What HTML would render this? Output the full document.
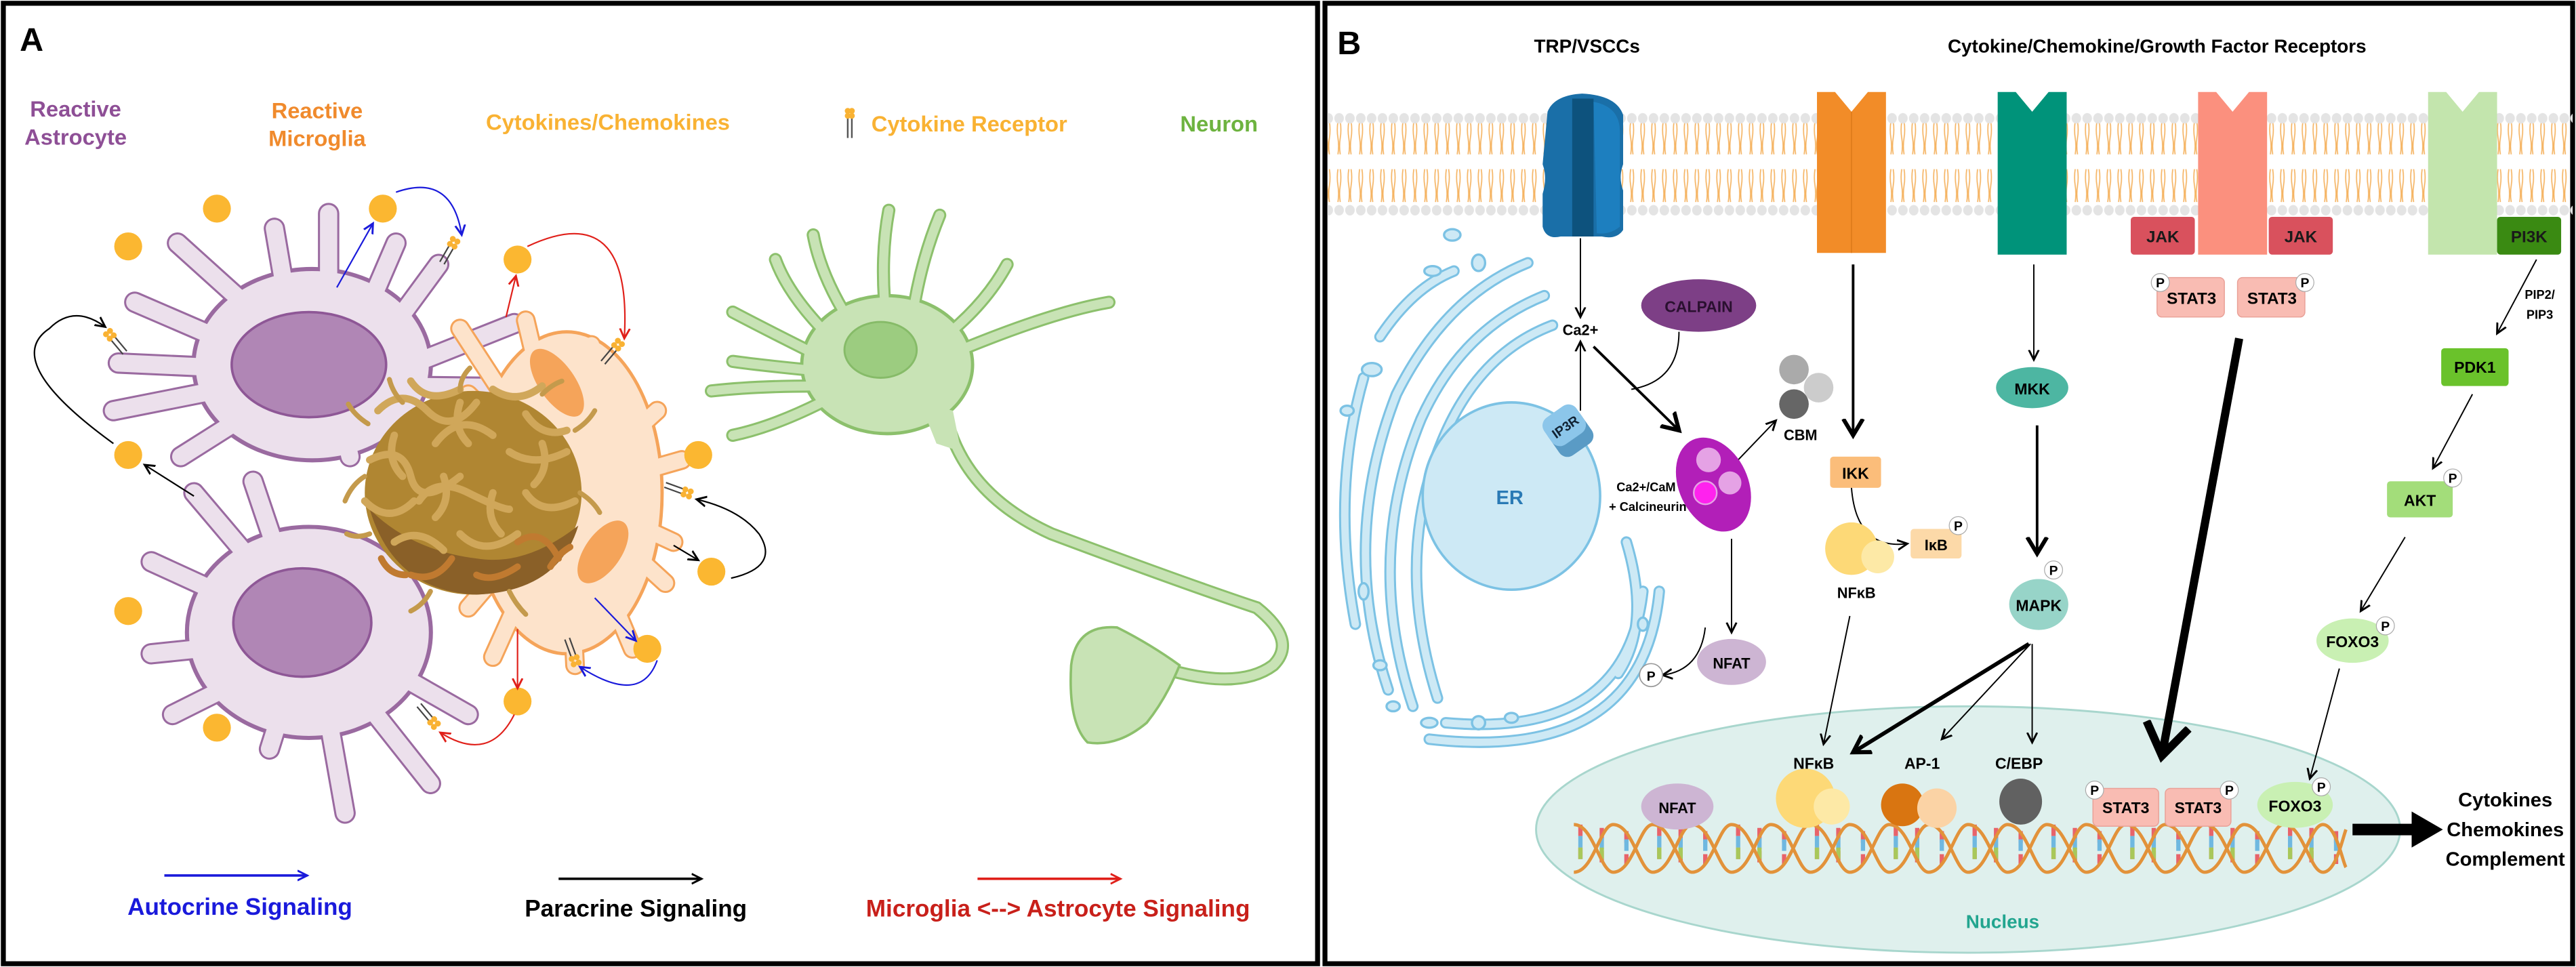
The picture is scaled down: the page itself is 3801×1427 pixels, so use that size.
<!DOCTYPE html>
<html><head><meta charset="utf-8"><style>
html,body{margin:0;padding:0;background:#fff;}
svg{display:block;}
text{font-family:"Liberation Sans",Arial,sans-serif;font-weight:bold;}
</style></head><body>
<svg width="3801" height="1427" viewBox="0 0 1568 588.7" xmlns="http://www.w3.org/2000/svg">
<defs>
<marker id="mk" markerWidth="8" markerHeight="8" refX="6" refY="4" orient="auto" markerUnits="userSpaceOnUse"><path d="M0,1 L6,4 L0,7" fill="none" stroke="#000" stroke-width="1.2"/></marker>
<marker id="mb" markerWidth="8" markerHeight="8" refX="6" refY="4" orient="auto" markerUnits="userSpaceOnUse"><path d="M0,1 L6,4 L0,7" fill="none" stroke="#1a1adb" stroke-width="1.2"/></marker>
<marker id="mr" markerWidth="8" markerHeight="8" refX="6" refY="4" orient="auto" markerUnits="userSpaceOnUse"><path d="M0,1 L6,4 L0,7" fill="none" stroke="#e0201a" stroke-width="1.2"/></marker>
<marker id="mk2" markerWidth="14" markerHeight="14" refX="10" refY="7" orient="auto" markerUnits="userSpaceOnUse"><path d="M0,1 L10,7 L0,13" fill="none" stroke="#000" stroke-width="2.5"/></marker>
<marker id="mk3" markerWidth="30" markerHeight="30" refX="20" refY="15" orient="auto" markerUnits="userSpaceOnUse"><path d="M1,2 L20,15 L1,28" fill="none" stroke="#000" stroke-width="5"/></marker>
<pattern id="mem" x="0" y="68" width="6.6" height="64" patternUnits="userSpaceOnUse">
<path d="M2.6,6 q-0.8,5 0,10 q0.8,5 0,10 M4,6 q0.8,5 0,10 q-0.8,5 0,10 M2.6,35 q-0.8,5 0,10 q0.8,5 0,10 M4,35 q0.8,5 0,10 q-0.8,5 0,10" stroke="#f5b463" stroke-width="0.7" fill="none"/>
<ellipse cx="3.3" cy="4" rx="2.9" ry="3.2" fill="#e4e4e4"/>
<ellipse cx="3.3" cy="60" rx="2.9" ry="3.2" fill="#e4e4e4"/>
</pattern>
</defs>
<rect width="1568" height="588.7" fill="#fff"/>
<rect x="2" y="2" width="800" height="584.7" fill="none" stroke="#000" stroke-width="3"/>
<rect x="806.5" y="2" width="759.5" height="584.7" fill="none" stroke="#000" stroke-width="3"/>

<!-- ===== PANEL A ===== -->
<text x="12" y="31" font-size="20">A</text>
<g font-size="13.5" text-anchor="middle">
<text x="46" y="71" fill="#8e4f96">Reactive</text>
<text x="46" y="88" fill="#8e4f96">Astrocyte</text>
<text x="193" y="72" fill="#f08a2c">Reactive</text>
<text x="193" y="89" fill="#f08a2c">Microglia</text>
<text x="370" y="79" fill="#f9b233">Cytokines/Chemokines</text>
<text x="590" y="80" fill="#f9b233">Cytokine Receptor</text>
<text x="742" y="80" fill="#6db33f">Neuron</text>
</g>
<g transform="translate(516,66)">
<line x1="0" y1="4" x2="0" y2="18" stroke="#555" stroke-width="1"/><line x1="2.5" y1="4" x2="2.5" y2="18" stroke="#555" stroke-width="1"/>
<circle cx="0" cy="1.5" r="1.8" fill="#f9b233"/><circle cx="2.5" cy="1.5" r="1.8" fill="#f9b233"/><circle cx="0" cy="4.5" r="1.8" fill="#f9b233"/><circle cx="2.5" cy="4.5" r="1.8" fill="#f9b233"/>
</g>

<!-- Astrocytes -->
<g stroke-linecap="round" fill="none">
<g stroke="#9a6aa0">
<g stroke-width="13">
<path d="M190,222 L108,148 M180,215 L167,139 M200,215 L200,130 M210,220 L241,148 M220,225 L267,161 M230,230 L313,197 M230,235 L315,236 M170,222 L82,184 M160,225 L72,221 M160,232 L69,250 M170,240 L110,278 M205,245 L213,278"/>
<path d="M190,385 L118,300 M175,380 L92,342 M170,390 L92,398 M175,400 L105,435 M180,405 L164,456 M195,410 L210,495 M205,405 L262,477 M215,395 L285,435 M180,370 L154,293"/>
</g>
<ellipse cx="190" cy="222" rx="72" ry="58" stroke-width="3" fill="#9a6aa0"/>
<ellipse cx="188" cy="385" rx="74" ry="64" stroke-width="3" fill="#9a6aa0"/>
</g>
<g stroke="#ece0ec">
<g stroke-width="10.5">
<path d="M190,222 L108,148 M180,215 L167,139 M200,215 L200,130 M210,220 L241,148 M220,225 L267,161 M230,230 L313,197 M230,235 L315,236 M170,222 L82,184 M160,225 L72,221 M160,232 L69,250 M170,240 L110,278 M205,245 L213,278"/>
<path d="M190,385 L118,300 M175,380 L92,342 M170,390 L92,398 M175,400 L105,435 M180,405 L164,456 M195,410 L210,495 M205,405 L262,477 M215,395 L285,435 M180,370 L154,293"/>
</g>
</g>
</g>
<ellipse cx="190" cy="222" rx="71" ry="57" fill="#ece0ec"/>
<ellipse cx="188" cy="385" rx="73" ry="63" fill="#ece0ec"/>
<ellipse cx="188" cy="222" rx="47" ry="32" fill="#b086b5" stroke="#8e5796" stroke-width="1.5"/>
<ellipse cx="184" cy="379" rx="42" ry="33" fill="#b086b5" stroke="#8e5796" stroke-width="1.5"/>

<!-- Microglia -->
<g stroke-linecap="round" fill="none">
<path d="M345,300 L280,200 M345,300 L320,195 M345,300 L360,210 M345,300 L400,250 M345,300 L415,280 M345,300 L410,330 M345,300 L405,355 M345,300 L385,395 M345,300 L350,405 M345,300 L300,400 M345,300 L285,370 M345,300 L285,240" stroke="#f5a45a" stroke-width="12"/>
<ellipse cx="345" cy="300" rx="58" ry="98" fill="#f5a45a" stroke="#f5a45a" stroke-width="2"/>
<path d="M345,300 L280,200 M345,300 L320,195 M345,300 L360,210 M345,300 L400,250 M345,300 L415,280 M345,300 L410,330 M345,300 L405,355 M345,300 L385,395 M345,300 L350,405 M345,300 L300,400 M345,300 L285,370 M345,300 L285,240" stroke="#fde3cb" stroke-width="9.5"/>
<ellipse cx="345" cy="300" rx="57" ry="97" fill="#fde3cb"/>
</g>
<ellipse cx="339" cy="233" rx="11" ry="24" transform="rotate(-35 339 233)" fill="#f5a45a"/>
<ellipse cx="367" cy="336" rx="11" ry="22" transform="rotate(35 367 336)" fill="#f5a45a"/>

<!-- Plaque -->
<ellipse cx="288" cy="300" rx="66" ry="62" fill="#b08632"/>
<path d="M225,310 Q240,360 290,362 Q340,360 352,320 Q320,345 290,340 Q250,335 225,310 Z" fill="#8a6028"/>
<g fill="none" stroke-linecap="round">
<g stroke="#d0a75a" stroke-width="4.5">
<path d="M230,250 q15,-15 30,0 t30,-5"/><path d="M250,232 q10,15 30,5"/><path d="M300,237 q15,10 30,-2"/><path d="M320,252 q10,15 25,10"/>
<path d="M225,280 q20,-10 25,10 t30,0"/><path d="M265,270 q15,-20 35,-5"/><path d="M310,275 q15,10 35,0"/><path d="M222,305 q15,15 30,0"/>
<path d="M255,305 q10,-15 30,-5 t25,10"/><path d="M320,300 q10,15 30,5"/><path d="M240,330 q15,-10 30,5"/><path d="M280,325 q15,15 35,0"/>
<path d="M240,265 q-5,15 5,25"/><path d="M280,245 q-5,15 5,25"/><path d="M330,270 q5,15 -5,25"/><path d="M270,290 q5,15 -5,25"/><path d="M300,300 q-5,15 5,25"/>
</g>
<g stroke="#c07a30" stroke-width="4">
<path d="M250,350 q15,5 25,-10"/><path d="M290,350 q10,5 25,-5"/><path d="M315,330 q15,-10 25,10"/><path d="M232,340 q5,10 15,10"/><path d="M335,345 q5,-8 12,-12"/>
</g>
<g stroke="#c49a4c" stroke-width="3">
<path d="M222,290 q-8,5 -12,15"/><path d="M224,258 q-8,-5 -12,-12"/><path d="M350,262 q8,-5 12,-12"/><path d="M353,300 q8,5 12,12"/>
<path d="M262,360 q-4,8 -12,12"/><path d="M310,360 q4,8 10,14"/><path d="M280,238 q0,-8 6,-14"/><path d="M330,240 q6,-6 12,-8"/><path d="M245,245 q-6,-6 -8,-14"/><path d="M225,325 q-8,3 -14,0"/>
</g>
</g>

<!-- Neuron -->
<g stroke-linecap="round" fill="none">
<g stroke="#8cc06c" stroke-width="8">
<path d="M540,200 Q535,160 541,128 M555,195 Q560,160 572,131 M520,200 Q500,170 495,143 M505,205 Q480,180 472,158 M575,205 Q600,185 613,161 M580,215 Q640,190 675,184 M495,215 Q465,200 446,190 M490,225 Q460,222 446,220 M495,235 Q460,235 433,238 M500,245 Q470,260 446,265"/>
<path d="M575,250 Q585,300 640,325 Q720,355 765,370 Q790,390 775,405 Q755,420 712,408"/>
</g>
<ellipse cx="540" cy="222" rx="52" ry="42" fill="#8cc06c" stroke="#8cc06c" stroke-width="2"/>
<g stroke="#c8e3b5" stroke-width="5.5">
<path d="M540,200 Q535,160 541,128 M555,195 Q560,160 572,131 M520,200 Q500,170 495,143 M505,205 Q480,180 472,158 M575,205 Q600,185 613,161 M580,215 Q640,190 675,184 M495,215 Q465,200 446,190 M490,225 Q460,222 446,220 M495,235 Q460,235 433,238 M500,245 Q470,260 446,265"/>
<path d="M575,250 Q585,300 640,325 Q720,355 765,370 Q790,390 775,405 Q755,420 712,408"/>
</g>
<ellipse cx="540" cy="222" rx="51" ry="41" fill="#c8e3b5"/>
<path d="M560,245 L580,250 L585,275 L570,270 Z" fill="#c8e3b5"/>
<path d="M718,405 Q700,392 680,382 Q655,380 652,405 Q650,440 662,452 Q680,455 698,440 Q710,425 718,405 Z" fill="#c8e3b5" stroke="#8cc06c" stroke-width="1.5"/>
</g>
<ellipse cx="536" cy="213" rx="22" ry="17" fill="#9ccc80" stroke="#86bb68" stroke-width="1.2"/>

<!-- Cytokine dots -->
<g fill="#fbb731">
<circle cx="132" cy="127" r="8.5"/><circle cx="78" cy="150" r="8.5"/><circle cx="233" cy="127" r="8.5"/><circle cx="315" cy="158" r="8.5"/>
<circle cx="78" cy="277" r="8.5"/><circle cx="425" cy="277" r="8.5"/><circle cx="433" cy="348" r="8.5"/><circle cx="78" cy="372" r="8.5"/>
<circle cx="394" cy="395" r="8.5"/><circle cx="315" cy="427" r="8.5"/><circle cx="132" cy="443" r="8.5"/>
</g>
<g>
<g transform="translate(276,148) rotate(30)"><line x1="-1.5" y1="0" x2="-1.5" y2="14" stroke="#444" stroke-width="0.9"/><line x1="1.5" y1="0" x2="1.5" y2="14" stroke="#444" stroke-width="0.9"/><circle cx="-1.6" cy="-2" r="1.8" fill="#f9b233"/><circle cx="1.6" cy="-2" r="1.8" fill="#f9b233"/><circle cx="-1.6" cy="1.5" r="1.8" fill="#f9b233"/><circle cx="1.6" cy="1.5" r="1.8" fill="#f9b233"/></g>
<g transform="translate(67,204) rotate(-40)"><line x1="-1.5" y1="0" x2="-1.5" y2="14" stroke="#444" stroke-width="0.9"/><line x1="1.5" y1="0" x2="1.5" y2="14" stroke="#444" stroke-width="0.9"/><circle cx="-1.6" cy="-2" r="1.8" fill="#f9b233"/><circle cx="1.6" cy="-2" r="1.8" fill="#f9b233"/><circle cx="-1.6" cy="1.5" r="1.8" fill="#f9b233"/><circle cx="1.6" cy="1.5" r="1.8" fill="#f9b233"/></g>
<g transform="translate(376,210) rotate(40)"><line x1="-1.5" y1="0" x2="-1.5" y2="14" stroke="#444" stroke-width="0.9"/><line x1="1.5" y1="0" x2="1.5" y2="14" stroke="#444" stroke-width="0.9"/><circle cx="-1.6" cy="-2" r="1.8" fill="#f9b233"/><circle cx="1.6" cy="-2" r="1.8" fill="#f9b233"/><circle cx="-1.6" cy="1.5" r="1.8" fill="#f9b233"/><circle cx="1.6" cy="1.5" r="1.8" fill="#f9b233"/></g>
<g transform="translate(418,300) rotate(110)"><line x1="-1.5" y1="0" x2="-1.5" y2="14" stroke="#444" stroke-width="0.9"/><line x1="1.5" y1="0" x2="1.5" y2="14" stroke="#444" stroke-width="0.9"/><circle cx="-1.6" cy="-2" r="1.8" fill="#f9b233"/><circle cx="1.6" cy="-2" r="1.8" fill="#f9b233"/><circle cx="-1.6" cy="1.5" r="1.8" fill="#f9b233"/><circle cx="1.6" cy="1.5" r="1.8" fill="#f9b233"/></g>
<g transform="translate(350,402) rotate(160)"><line x1="-1.5" y1="0" x2="-1.5" y2="14" stroke="#444" stroke-width="0.9"/><line x1="1.5" y1="0" x2="1.5" y2="14" stroke="#444" stroke-width="0.9"/><circle cx="-1.6" cy="-2" r="1.8" fill="#f9b233"/><circle cx="1.6" cy="-2" r="1.8" fill="#f9b233"/><circle cx="-1.6" cy="1.5" r="1.8" fill="#f9b233"/><circle cx="1.6" cy="1.5" r="1.8" fill="#f9b233"/></g>
<g transform="translate(264,440) rotate(140)"><line x1="-1.5" y1="0" x2="-1.5" y2="14" stroke="#444" stroke-width="0.9"/><line x1="1.5" y1="0" x2="1.5" y2="14" stroke="#444" stroke-width="0.9"/><circle cx="-1.6" cy="-2" r="1.8" fill="#f9b233"/><circle cx="1.6" cy="-2" r="1.8" fill="#f9b233"/><circle cx="-1.6" cy="1.5" r="1.8" fill="#f9b233"/><circle cx="1.6" cy="1.5" r="1.8" fill="#f9b233"/></g>
</g>
<g fill="none" stroke-width="0.9">
<path d="M205,175 L227,136" stroke="#1a1adb" marker-end="url(#mb)"/>
<path d="M241,117 Q275,105 281,143" stroke="#1a1adb" marker-end="url(#mb)"/>
<path d="M308,193 L314,168" stroke="#e0201a" marker-end="url(#mr)"/>
<path d="M321,150 Q385,120 380,206" stroke="#e0201a" marker-end="url(#mr)"/>
<path d="M69,270 Q0,220 30,200 Q45,185 64,199" stroke="#000" marker-end="url(#mk)"/>
<path d="M118,302 L88,283" stroke="#000" marker-end="url(#mk)"/>
<path d="M445,352 Q475,345 462,325 Q450,310 424,304" stroke="#000" marker-end="url(#mk)"/>
<path d="M410,332 L425,341" stroke="#000" marker-end="url(#mk)"/>
<path d="M362,364 L387,390" stroke="#1a1adb" marker-end="url(#mb)"/>
<path d="M400,402 Q390,430 353,406" stroke="#1a1adb" marker-end="url(#mb)"/>
<path d="M315,383 L315,419" stroke="#e0201a" marker-end="url(#mr)"/>
<path d="M313,435 Q298,465 268,446" stroke="#e0201a" marker-end="url(#mr)"/>
<path d="M100,533 L187,533" stroke="#1a1adb" stroke-width="1.5" marker-end="url(#mb)"/>
<path d="M340,535 L427,535" stroke="#000" stroke-width="1.5" marker-end="url(#mk)"/>
<path d="M595,535 L682,535" stroke="#e0201a" stroke-width="1.5" marker-end="url(#mr)"/>
</g>
<g font-size="14.5" text-anchor="middle">
<text x="146" y="557" fill="#1a1adb">Autocrine Signaling</text>
<text x="387" y="558" fill="#000">Paracrine Signaling</text>
<text x="644" y="558" fill="#c8201a">Microglia &lt;--&gt; Astrocyte Signaling</text>
</g>

<!-- ===== PANEL B ===== -->
<text x="814" y="33" font-size="20">B</text>
<g font-size="11.5" text-anchor="middle">
<text x="966" y="32">TRP/VSCCs</text>
<text x="1313" y="32">Cytokine/Chemokine/Growth Factor Receptors</text>
</g>
<!-- Nucleus (drawn first) -->
<ellipse cx="1198" cy="505" rx="263" ry="75" fill="#dff0ed" stroke="#a8d6cd" stroke-width="1.2"/>
<text x="1219" y="565" font-size="11.5" text-anchor="middle" fill="#22a58f">Nucleus</text>

<rect x="808" y="68" width="758" height="64" fill="url(#mem)"/>
<path d="M942,68 Q946,58 963,57 Q984,58 988,70 L988,100 Q985,108 988,116 L988,140 Q984,146 975,144 L950,144 Q941,146 939,138 L939,118 Q942,108 939,100 Z" fill="#1a6fa8"/>
<path d="M957,60 L970,60 L970,144 L957,144 Z" fill="#0d527d"/>
<path d="M970,62 Q986,65 986,80 L986,138 Q980,143 972,142 Z" fill="#1d7fbf"/>
<path d="M1106,56 L1117,56 L1127,68 L1137,56 L1148,56 L1148,154 L1106,154 Z" fill="#f28c28"/>
<line x1="1127" y1="68" x2="1127" y2="154" stroke="#e07d1c" stroke-width="0.8"/>
<path d="M1216,56 L1227,56 L1237,68 L1247,56 L1258,56 L1258,155 L1216,155 Z" fill="#00937a"/>
<path d="M1338,56 L1349,56 L1359,68 L1369,56 L1380,56 L1380,155 L1338,155 Z" fill="#fb907e"/>
<path d="M1478,56 L1489,56 L1499,68 L1509,56 L1520,56 L1520,155 L1478,155 Z" fill="#c3e5ad"/>
<rect x="1297" y="132" width="39" height="23" rx="2" fill="#d9515d"/>
<rect x="1381" y="132" width="39" height="23" rx="2" fill="#d9515d"/>
<rect x="1520" y="132" width="39" height="23" rx="2" fill="#3a8a12"/>
<g font-size="10" text-anchor="middle" fill="#1a1a1a">
<text x="1316.5" y="147.5">JAK</text><text x="1400.5" y="147.5">JAK</text><text x="1539.5" y="147.5">PI3K</text>
</g>
<rect x="1313" y="169" width="41" height="24" rx="3" fill="#f9bcb3" stroke="#e9a097" stroke-width="0.6"/>
<rect x="1362" y="169" width="41" height="24" rx="3" fill="#f9bcb3" stroke="#e9a097" stroke-width="0.6"/>
<g font-size="10" text-anchor="middle"><text x="1334" y="185">STAT3</text><text x="1383" y="185">STAT3</text></g>

<!-- ER -->
<g fill="none" stroke-linecap="round">
<g stroke="#7cc2e4" stroke-width="7">
<path d="M845,420 Q815,330 850,240 Q880,180 930,160"/>
<path d="M860,430 Q830,340 865,255 Q890,200 940,180"/>
<path d="M875,425 Q848,340 878,268 Q900,215 945,198"/>
<path d="M880,440 Q990,450 1000,360"/>
<path d="M870,450 Q1000,465 1010,360"/>
<path d="M825,380 Q810,300 830,230"/>
<path d="M990,330 Q1005,380 985,410"/>
<path d="M840,205 Q860,175 885,165"/>
</g>
<g stroke="#cde9f5" stroke-width="4.5">
<path d="M845,420 Q815,330 850,240 Q880,180 930,160"/>
<path d="M860,430 Q830,340 865,255 Q890,200 940,180"/>
<path d="M875,425 Q848,340 878,268 Q900,215 945,198"/>
<path d="M880,440 Q990,450 1000,360"/>
<path d="M870,450 Q1000,465 1010,360"/>
<path d="M825,380 Q810,300 830,230"/>
<path d="M990,330 Q1005,380 985,410"/>
<path d="M840,205 Q860,175 885,165"/>
</g>
</g>
<g fill="#cde9f5" stroke="#7cc2e4" stroke-width="1.4">
<ellipse cx="884" cy="143" rx="5" ry="3.5"/><ellipse cx="900" cy="160" rx="4" ry="5"/><ellipse cx="872" cy="165" rx="5" ry="3"/>
<ellipse cx="835" cy="225" rx="6" ry="4"/><ellipse cx="848" cy="430" rx="4" ry="3"/><ellipse cx="870" cy="440" rx="5" ry="3"/>
<ellipse cx="900" cy="440" rx="4" ry="4"/><ellipse cx="920" cy="437" rx="4" ry="3"/><ellipse cx="840" cy="405" rx="4" ry="3"/>
<ellipse cx="830" cy="360" rx="3" ry="5"/><ellipse cx="1000" cy="380" rx="3" ry="4"/><ellipse cx="820" cy="250" rx="4" ry="3"/>
<ellipse cx="920" cy="302" rx="54" ry="57" stroke-width="1.5"/>
</g>
<text x="919" y="307" font-size="12" text-anchor="middle" fill="#2a7ab5">ER</text>
<g transform="rotate(-35 955 263)">
<rect x="943" y="252" width="24" height="24" rx="6" fill="#5a9bc5"/>
<rect x="943" y="248" width="24" height="20" rx="6" fill="#8cc6ea"/>
<text x="955" y="262" font-size="8" text-anchor="middle" fill="#123">IP3R</text>
</g>
<g fill="none" stroke="#000" stroke-width="0.8">
<path d="M962,145 L962,193" marker-end="url(#mk)"/>
<path d="M962,250 L962,208" marker-end="url(#mk)"/>
<path d="M970,211 L1022,262" stroke-width="1.6" marker-end="url(#mk2)"/>
<path d="M1022,202 Q1022,232 993,237"/>
<path d="M1058,280 L1081,256" marker-end="url(#mk)"/>
<path d="M1054,328 L1054,385" marker-end="url(#mk)"/>
<path d="M1038,382 Q1035,408 1012,411" marker-end="url(#mk)"/>
</g>
<text x="962" y="204" font-size="9" text-anchor="middle">Ca2+</text>
<ellipse cx="1034" cy="186" rx="35" ry="16" fill="#7d3f86"/>
<text x="1034" y="190" font-size="9.5" text-anchor="middle" fill="#2a1030">CALPAIN</text>
<ellipse cx="1043" cy="295" rx="21" ry="30" transform="rotate(-25 1043 295)" fill="#b21fb8"/>
<circle cx="1040" cy="280" r="7.5" fill="#e5a2e5"/><circle cx="1053" cy="294" r="7" fill="#e5a2e5"/><circle cx="1038" cy="300" r="7" fill="#ff22ee" stroke="#e5a2e5"/>
<text x="1002" y="299" font-size="7.5" text-anchor="middle">Ca2+/CaM</text>
<text x="1003" y="311" font-size="7.5" text-anchor="middle">+ Calcineurin</text>
<circle cx="1092" cy="225" r="9" fill="#aaa"/><circle cx="1107" cy="236" r="9" fill="#ccc"/><circle cx="1092" cy="246" r="9" fill="#666"/>
<text x="1096" y="268" font-size="9" text-anchor="middle">CBM</text>
<ellipse cx="1054" cy="403" rx="21" ry="14" fill="#cdb5d3"/>
<text x="1054" y="407" font-size="9" text-anchor="middle">NFAT</text>
<circle cx="1005" cy="411" r="7" fill="#fff" stroke="#999" stroke-width="0.7"/><text x="1005" y="414.5" font-size="8" text-anchor="middle">P</text>

<path d="M1128,161 L1128,265" stroke="#000" stroke-width="1.6" marker-end="url(#mk2)"/>
<rect x="1114" y="278" width="31" height="19" rx="2" fill="#fbbd7a"/>
<text x="1129.5" y="291.5" font-size="9.5" text-anchor="middle">IKK</text>
<path d="M1127,297 Q1130,335 1161,331" fill="none" stroke="#000" stroke-width="0.8" marker-end="url(#mk)"/>
<rect x="1163" y="322" width="31" height="18" rx="2" fill="#fcd9a8"/>
<text x="1178.5" y="335" font-size="9" text-anchor="middle">IκB</text>
<circle cx="1127" cy="334" r="16" fill="#fdd977"/><circle cx="1143" cy="339" r="10" fill="#fde9a6"/>
<text x="1130" y="364" font-size="9" text-anchor="middle">NFκB</text>
<path d="M1126,375 L1110,453" fill="none" stroke="#000" stroke-width="0.8" marker-end="url(#mk)"/>

<path d="M1238,161 L1238,219" fill="none" stroke="#000" stroke-width="0.8" marker-end="url(#mk)"/>
<ellipse cx="1237" cy="236" rx="22" ry="12.5" fill="#4db6a2"/>
<text x="1237" y="240" font-size="9.5" text-anchor="middle">MKK</text>
<path d="M1240,259 L1240,337" stroke="#000" stroke-width="1.6" marker-end="url(#mk2)"/>
<ellipse cx="1241" cy="368" rx="18" ry="15.5" fill="#97d4c8"/>
<text x="1241" y="372" font-size="9.5" text-anchor="middle">MAPK</text>
<g fill="none" stroke="#000">
<path d="M1235,392 L1128,458" stroke-width="2.4" marker-end="url(#mk2)"/>
<path d="M1236,392 L1182,450" stroke-width="0.8" marker-end="url(#mk)"/>
<path d="M1237,392 L1237,452" stroke-width="0.8" marker-end="url(#mk)"/>
<path d="M1363,206 L1316,460" stroke-width="5" marker-end="url(#mk3)"/>
</g>

<path d="M1544,158 L1520,203" fill="none" stroke="#000" stroke-width="0.8" marker-end="url(#mk)"/>
<text x="1546" y="182" font-size="7.5" text-anchor="middle" font-weight="normal">PIP2/</text>
<text x="1546" y="194" font-size="7.5" text-anchor="middle" font-weight="normal">PIP3</text>
<rect x="1486" y="212" width="41" height="23" rx="2" fill="#6ac22b"/>
<text x="1506.5" y="227" font-size="9.5" text-anchor="middle">PDK1</text>
<path d="M1505,240 L1481,285" fill="none" stroke="#000" stroke-width="0.8" marker-end="url(#mk)"/>
<rect x="1453" y="293" width="40" height="22" rx="2" fill="#a3dd7a"/>
<text x="1473" y="308" font-size="9.5" text-anchor="middle">AKT</text>
<path d="M1464,327 L1437,372" fill="none" stroke="#000" stroke-width="0.8" marker-end="url(#mk)"/>
<ellipse cx="1432" cy="390" rx="22" ry="13.5" fill="#c9f0b3"/>
<text x="1432" y="394" font-size="9.5" text-anchor="middle">FOXO3</text>
<path d="M1424,407 L1406,474" fill="none" stroke="#000" stroke-width="0.8" marker-end="url(#mk)"/>

<!-- DNA -->
<g fill="none">
<g stroke-width="2.6">
<path d="M962,502 l0,28 M975,504 l0,24 M990,506 l0,20 M1010,502 l0,28 M1023,504 l0,24 M1038,506 l0,20 M1058,502 l0,28 M1071,504 l0,24 M1086,506 l0,20 M1106,502 l0,28 M1119,504 l0,24 M1134,506 l0,20 M1154,502 l0,28 M1167,504 l0,24 M1182,506 l0,20 M1202,502 l0,28 M1215,504 l0,24 M1230,506 l0,20 M1250,502 l0,28 M1263,504 l0,24 M1278,506 l0,20 M1298,502 l0,28 M1311,504 l0,24 M1326,506 l0,20 M1346,502 l0,28 M1359,504 l0,24 M1374,506 l0,20 M1394,502 l0,28 M1407,504 l0,24 M1422,506 l0,20" stroke="#e8636a" stroke-dasharray="7 7"/>
<path d="M962,509 l0,21 M975,510 l0,18 M990,511 l0,15 M1010,509 l0,21 M1023,510 l0,18 M1038,511 l0,15 M1058,509 l0,21 M1071,510 l0,18 M1086,511 l0,15 M1106,509 l0,21 M1119,510 l0,18 M1134,511 l0,15 M1154,509 l0,21 M1167,510 l0,18 M1182,511 l0,15 M1202,509 l0,21 M1215,510 l0,18 M1230,511 l0,15 M1250,509 l0,21 M1263,510 l0,18 M1278,511 l0,15 M1298,509 l0,21 M1311,510 l0,18 M1326,511 l0,15 M1346,509 l0,21 M1359,510 l0,18 M1374,511 l0,15 M1394,509 l0,21 M1407,510 l0,18 M1422,511 l0,15" stroke="#6fb8e0" stroke-dasharray="7 14"/>
<path d="M962,516 l0,14 M975,516 l0,12 M1010,516 l0,14 M1023,516 l0,12 M1058,516 l0,14 M1071,516 l0,12 M1106,516 l0,14 M1119,516 l0,12 M1154,516 l0,14 M1167,516 l0,12 M1202,516 l0,14 M1215,516 l0,12 M1250,516 l0,14 M1263,516 l0,12 M1298,516 l0,14 M1311,516 l0,12 M1346,516 l0,14 M1359,516 l0,12 M1394,516 l0,14 M1407,516 l0,12" stroke="#a8c85a" stroke-dasharray="7 20"/>
</g>
<path d="M958,502 C970,502 974,531 982,531 C994,531 998,502 1006,502 C1018,502 1022,531 1030,531 C1042,531 1046,502 1054,502 C1066,502 1070,531 1078,531 C1090,531 1094,502 1102,502 C1114,502 1118,531 1126,531 C1138,531 1142,502 1150,502 C1162,502 1166,531 1174,531 C1186,531 1190,502 1198,502 C1210,502 1214,531 1222,531 C1234,531 1238,502 1246,502 C1258,502 1262,531 1270,531 C1282,531 1286,502 1294,502 C1306,502 1310,531 1318,531 C1330,531 1334,502 1342,502 C1354,502 1358,531 1366,531 C1378,531 1382,502 1390,502 C1402,502 1406,531 1414,531 C1422,531 1426,510 1428,505" stroke="#e2923a" stroke-width="2"/>
<path d="M958,531 C970,531 974,502 982,502 C994,502 998,531 1006,531 C1018,531 1022,502 1030,502 C1042,502 1046,531 1054,531 C1066,531 1070,502 1078,502 C1090,502 1094,531 1102,531 C1114,531 1118,502 1126,502 C1138,502 1142,531 1150,531 C1162,531 1166,502 1174,502 C1186,502 1190,531 1198,531 C1210,531 1214,502 1222,502 C1234,502 1238,531 1246,531 C1258,531 1262,502 1270,502 C1282,502 1286,531 1294,531 C1306,531 1310,502 1318,502 C1330,502 1334,531 1342,531 C1354,531 1358,502 1366,502 C1378,502 1382,531 1390,531 C1402,531 1406,502 1414,502 C1422,502 1426,525 1428,528" stroke="#e2923a" stroke-width="2"/>
</g>
<g font-size="9.5" text-anchor="middle">
<text x="1104" y="468">NFκB</text><text x="1170" y="468">AP-1</text><text x="1229" y="468">C/EBP</text>
</g>
<ellipse cx="1021" cy="491" rx="22" ry="14" fill="#cdb5d3"/>
<text x="1021" y="495" font-size="9" text-anchor="middle">NFAT</text>
<circle cx="1099" cy="486" r="18" fill="#fdd977"/><circle cx="1115" cy="491" r="11" fill="#fde9a6"/>
<circle cx="1158" cy="490" r="13" fill="#d97511"/><circle cx="1179" cy="492" r="12" fill="#fbd3a5"/>
<ellipse cx="1230" cy="488" rx="13" ry="14" fill="#616161"/>
<rect x="1274" y="480" width="40" height="23" rx="3" fill="#f9bcb3" stroke="#e9a097" stroke-width="0.6"/>
<rect x="1318" y="480" width="40" height="23" rx="3" fill="#f9bcb3" stroke="#e9a097" stroke-width="0.6"/>
<g font-size="9.5" text-anchor="middle"><text x="1294" y="495">STAT3</text><text x="1338" y="495">STAT3</text></g>
<ellipse cx="1397" cy="490" rx="23" ry="14" fill="#c9f0b3"/>
<text x="1397" y="494" font-size="9.5" text-anchor="middle">FOXO3</text>

<g font-size="8" text-anchor="middle">
<g><circle cx="1315" cy="172" r="5.5" fill="#fff" stroke="#aaa" stroke-width="0.5"/><text x="1315" y="175">P</text></g>
<g><circle cx="1403" cy="172" r="5.5" fill="#fff" stroke="#aaa" stroke-width="0.5"/><text x="1403" y="175">P</text></g>
<g><circle cx="1192" cy="320" r="5.5" fill="#fff" stroke="#aaa" stroke-width="0.5"/><text x="1192" y="323">P</text></g>
<g><circle cx="1250" cy="347" r="5.5" fill="#fff" stroke="#aaa" stroke-width="0.5"/><text x="1250" y="350">P</text></g>
<g><circle cx="1493" cy="291" r="5.5" fill="#fff" stroke="#aaa" stroke-width="0.5"/><text x="1493" y="294">P</text></g>
<g><circle cx="1452" cy="381" r="5.5" fill="#fff" stroke="#aaa" stroke-width="0.5"/><text x="1452" y="384">P</text></g>
<g><circle cx="1275" cy="481" r="5.5" fill="#fff" stroke="#aaa" stroke-width="0.5"/><text x="1275" y="484">P</text></g>
<g><circle cx="1357" cy="481" r="5.5" fill="#fff" stroke="#aaa" stroke-width="0.5"/><text x="1357" y="484">P</text></g>
<g><circle cx="1413" cy="479" r="5.5" fill="#fff" stroke="#aaa" stroke-width="0.5"/><text x="1413" y="482">P</text></g>
</g>
<path d="M1432,505 L1470,505" stroke="#000" stroke-width="7"/>
<path d="M1468,494 L1487,505 L1468,516 Z" fill="#000"/>
<g font-size="12" text-anchor="middle">
<text x="1525" y="491">Cytokines</text><text x="1525" y="509">Chemokines</text><text x="1525" y="527">Complement</text>
</g>
</svg>
</body></html>
